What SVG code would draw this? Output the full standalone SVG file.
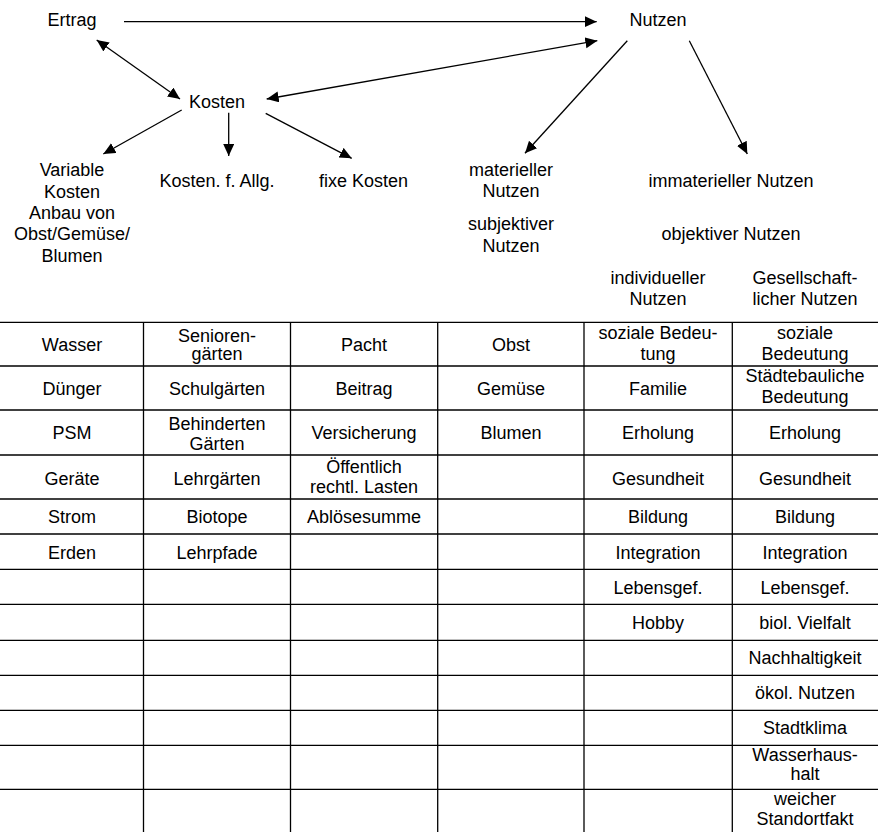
<svg xmlns="http://www.w3.org/2000/svg" width="878" height="832" viewBox="0 0 878 832">
<style>
text{font-family:"Liberation Sans",Arial,sans-serif;font-size:18px;fill:#000;text-anchor:middle}
.ln{stroke:#000;stroke-width:1.3;fill:none}
.grid line{stroke:#000;stroke-width:1.3}
</style>
<defs>
<marker id="ah" markerUnits="userSpaceOnUse" markerWidth="13" markerHeight="12" refX="12" refY="5.5" orient="auto-start-reverse" viewBox="0 0 13 12">
<path d="M0,0 L12,5.5 L0,11 z" fill="#000"/>
</marker>
</defs>
<g id="connectors">
<line class="ln" x1="124" y1="21.7" x2="596.7" y2="21.7" marker-end="url(#ah)"/>
<line class="ln" x1="96.7" y1="40" x2="180" y2="99" marker-start="url(#ah)" marker-end="url(#ah)"/>
<line class="ln" x1="266.7" y1="99" x2="597.3" y2="40.7" marker-start="url(#ah)" marker-end="url(#ah)"/>
<line class="ln" x1="181.7" y1="110" x2="103.3" y2="154" marker-end="url(#ah)"/>
<line class="ln" x1="228.7" y1="112.7" x2="228.7" y2="156" marker-end="url(#ah)"/>
<line class="ln" x1="265.7" y1="113.3" x2="351.7" y2="158.3" marker-end="url(#ah)"/>
<line class="ln" x1="627.3" y1="40.7" x2="525" y2="153.3" marker-end="url(#ah)"/>
<line class="ln" x1="689.3" y1="40.7" x2="747.3" y2="154" marker-end="url(#ah)"/>
</g>
<g id="ertrag"><text x="72" y="26">Ertrag</text></g>
<g id="nutzen"><text x="658" y="26">Nutzen</text></g>
<g id="kosten"><text x="217" y="108.3">Kosten</text></g>
<g id="variable"><text x="72" y="176">Variable</text><text x="72" y="197.5">Kosten</text><text x="72" y="218.8">Anbau von</text><text x="72" y="240.2">Obst/Gemüse/</text><text x="72" y="261.6">Blumen</text></g>
<g id="kostenallg"><text x="217" y="186.7">Kosten. f. Allg.</text></g>
<g id="fixe"><text x="363.5" y="186.7">fixe Kosten</text></g>
<g id="materiell"><text x="511" y="175.7">materieller</text><text x="511" y="197.3">Nutzen</text></g>
<g id="subjektiv"><text x="511" y="230">subjektiver</text><text x="511" y="251.7">Nutzen</text></g>
<g id="immateriell"><text x="731" y="186.7">immaterieller Nutzen</text></g>
<g id="objektiv"><text x="731" y="240">objektiver Nutzen</text></g>
<g id="individuell"><text x="658" y="284.3">individueller</text><text x="658" y="305">Nutzen</text></g>
<g id="gesellschaftlich"><text x="805" y="284.3">Gesellschaft-</text><text x="805" y="305">licher Nutzen</text></g>
<g id="table">
<g class="grid">
<line x1="-2" y1="322.3" x2="880" y2="322.3"/>
<line x1="-2" y1="366" x2="880" y2="366"/>
<line x1="-2" y1="410" x2="880" y2="410"/>
<line x1="-2" y1="455" x2="880" y2="455"/>
<line x1="-2" y1="499" x2="880" y2="499"/>
<line x1="-2" y1="534" x2="880" y2="534"/>
<line x1="-2" y1="569.3" x2="880" y2="569.3"/>
<line x1="-2" y1="604.3" x2="880" y2="604.3"/>
<line x1="-2" y1="640.3" x2="880" y2="640.3"/>
<line x1="-2" y1="675.3" x2="880" y2="675.3"/>
<line x1="-2" y1="710.3" x2="880" y2="710.3"/>
<line x1="-2" y1="745.3" x2="880" y2="745.3"/>
<line x1="-2" y1="789.3" x2="880" y2="789.3"/>
<line x1="143.5" y1="322.3" x2="143.5" y2="834"/>
<line x1="290.5" y1="322.3" x2="290.5" y2="834"/>
<line x1="437.7" y1="322.3" x2="437.7" y2="834"/>
<line x1="584" y1="322.3" x2="584" y2="834"/>
<line x1="732.3" y1="322.3" x2="732.3" y2="834"/>
</g>
<text x="72" y="351">Wasser</text>
<text x="217" y="341.5">Senioren-</text><text x="217" y="360">gärten</text>
<text x="364" y="351">Pacht</text>
<text x="511" y="351">Obst</text>
<text x="658" y="339">soziale Bedeu-</text><text x="658" y="359.5">tung</text>
<text x="805" y="339">soziale</text><text x="805" y="359.5">Bedeutung</text>

<text x="72" y="395">Dünger</text>
<text x="217" y="395">Schulgärten</text>
<text x="364" y="395">Beitrag</text>
<text x="511" y="395">Gemüse</text>
<text x="658" y="395">Familie</text>
<text x="805" y="382">Städtebauliche</text><text x="805" y="403">Bedeutung</text>

<text x="72" y="439">PSM</text>
<text x="217" y="430">Behinderten</text><text x="217" y="450">Gärten</text>
<text x="364" y="438.5">Versicherung</text>
<text x="511" y="439">Blumen</text>
<text x="658" y="439">Erholung</text>
<text x="805" y="439">Erholung</text>

<text x="72" y="484.5">Geräte</text>
<text x="217" y="484.5">Lehrgärten</text>
<text x="364" y="473.3">Öffentlich</text><text x="364" y="493.3">rechtl. Lasten</text>
<text x="658" y="484.5">Gesundheit</text>
<text x="805" y="484.5">Gesundheit</text>

<text x="72" y="523">Strom</text>
<text x="217" y="523">Biotope</text>
<text x="364" y="523">Ablösesumme</text>
<text x="658" y="523">Bildung</text>
<text x="805" y="523">Bildung</text>

<text x="72" y="559">Erden</text>
<text x="217" y="559">Lehrpfade</text>
<text x="658" y="559">Integration</text>
<text x="805" y="559">Integration</text>

<text x="658" y="593.5">Lebensgef.</text>
<text x="805" y="593.5">Lebensgef.</text>

<text x="658" y="628.5">Hobby</text>
<text x="805" y="628.5">biol. Vielfalt</text>

<text x="805" y="664">Nachhaltigkeit</text>
<text x="805" y="699">ökol. Nutzen</text>
<text x="805" y="734.3">Stadtklima</text>
<text x="805" y="760.7">Wasserhaus-</text><text x="805" y="779.5">halt</text>
<text x="805" y="805">weicher</text><text x="805" y="825">Standortfakt</text>
</g>
</svg>
